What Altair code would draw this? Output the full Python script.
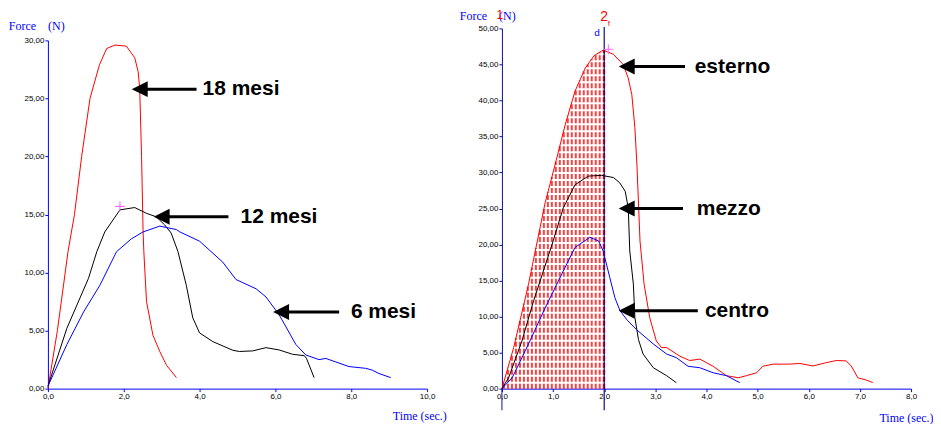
import altair as alt
import numpy as np
import pandas as pd

# ---------------- left panel data ----------------
m18_x = [0, 0.25, 0.53, 0.70, 0.89, 1.11, 1.36, 1.55, 1.77, 2.07, 2.29, 2.38, 2.42, 2.47, 2.51, 2.53, 2.60, 2.77, 2.95, 3.13, 3.39]
m18_y = [0, 5.0, 11.8, 15.0, 20.0, 25.0, 27.9, 29.3, 29.6, 29.5, 28.5, 27.3, 25.9, 20.0, 13.5, 11.8, 7.5, 4.6, 3.2, 2.0, 0.95]
m12_x = [0, 0.5, 1.07, 1.29, 1.5, 1.9, 2.29, 2.6, 2.86, 3.08, 3.25, 3.43, 3.65, 3.82, 4.0, 4.35, 4.88, 5.05, 5.40, 5.75, 6.1, 6.45, 6.76, 6.82, 7.02]
m12_y = [0.2, 5.2, 9.5, 11.8, 13.5, 15.4, 15.6, 15.1, 14.8, 14.1, 13.4, 11.8, 8.9, 6.1, 4.8, 4.05, 3.3, 3.2, 3.25, 3.53, 3.33, 2.96, 2.84, 2.6, 0.95]
m6_x = [0, 0.5, 0.94, 1.37, 1.81, 2.2, 2.51, 2.95, 3.39, 3.48, 4.0, 4.61, 4.96, 5.49, 5.75, 6.1, 6.54, 6.8, 7.15, 7.33, 7.59, 7.94, 8.38, 8.55, 8.73, 9.04]
m6_y = [0.2, 3.8, 6.6, 8.9, 11.8, 12.9, 13.5, 14.0, 13.7, 13.5, 12.7, 10.9, 9.4, 8.6, 7.9, 6.35, 3.8, 2.9, 2.5, 2.6, 2.3, 1.9, 1.75, 1.6, 1.3, 0.95]

left_labels = ["18 mesi", "12 mesi", "6 mesi"]
left_tip_x = [2.42, 3.0, 6.15]
left_arrow_y = [25.8, 14.8, 6.6]
left_end_x = [3.92, 4.76, 7.68]
left_text_x = [4.08, 5.08, 7.99]

# ---------------- right panel data ----------------
est_x = [0, 0.23, 0.52, 0.845, 1.04, 1.24, 1.43, 1.63, 1.80, 1.98, 2.18, 2.37, 2.47, 2.54, 2.60, 2.64, 2.70, 2.78, 2.89, 3.02, 3.12, 3.22, 3.48, 3.67, 3.87, 4.13, 4.39, 4.62, 4.78, 4.98, 5.1, 5.3, 5.63, 5.82, 6.08, 6.34, 6.54, 6.73, 6.83, 6.96, 7.12, 7.25]
est_y = [0, 5.7, 14.5, 25.8, 31.1, 36.7, 41.3, 44.5, 46.2, 47.0, 46.4, 45.0, 43.1, 40.8, 36.2, 31.0, 20.5, 14.5, 9.85, 6.6, 5.7, 5.7, 4.5, 3.9, 4.1, 3.1, 1.8, 1.5, 1.8, 2.2, 3.1, 3.4, 3.4, 3.5, 3.15, 3.6, 3.9, 3.85, 3.15, 1.5, 1.2, 0.85]
mez_x = [0, 0.13, 0.39, 0.62, 0.98, 1.2, 1.43, 1.69, 1.95, 2.18, 2.30, 2.41, 2.47, 2.50, 2.57, 2.60, 2.67, 2.76, 2.96, 3.22, 3.41]
mez_y = [0, 1.5, 6.6, 12.2, 20.0, 25.1, 28.3, 29.5, 29.6, 29.3, 28.6, 27.4, 25.1, 19.1, 14.5, 9.85, 6.8, 4.8, 2.9, 1.8, 0.83]
cen_x = [0, 0.2, 0.52, 0.845, 1.17, 1.43, 1.72, 1.89, 1.98, 2.11, 2.21, 2.31, 2.45, 2.63, 2.96, 3.22, 3.41, 3.64, 3.87, 4.13, 4.39, 4.65]
cen_y = [0, 1.5, 6.2, 11.2, 15.9, 19.6, 21.0, 20.5, 19.1, 15.4, 12.6, 10.8, 9.5, 8.2, 6.2, 4.8, 4.3, 3.1, 2.9, 2.2, 1.8, 0.83]

right_labels = ["esterno", "mezzo", "centro"]
right_tip_x = [2.44, 2.44, 2.44]
right_arrow_y = [44.7, 25.0, 10.8]
right_end_x = [3.58, 3.54, 3.83]
right_text_x = [3.77, 3.81, 3.97]

cursor_x = 2.0

LBL_Y = "replace(format(datum.value, '.2f'), '.', ',')"
LBL_X = "replace(format(datum.value, '.1f'), '.', ',')"
NB = "\u00a0"


def series_df(pairs):
    rows = []
    for name, xs, ys in pairs:
        for i, (a, b) in enumerate(zip(xs, ys)):
            rows.append({"s": name, "x": a, "y": b, "i": i})
    return pd.DataFrame(rows)


def arrows_df(tx, ay, ex, txx, labels):
    return pd.DataFrame({"tx": tx, "y": ay, "ex": ex, "lx": txx, "label": labels})


ARROW_HEAD = "M-1,0L1,-1L1,1Z"
CROSS = "M-1,0L1,0M0,-1L0,1"


def panel(df, arrows, xdom, xvals, ydom, yvals, yrange, width, height,
          ycol, xcol, ytitle_x, ytitle_y, xtitle_x, xtitle_y, extra_layers):
    xax = alt.Axis(values=xvals, labelExpr=LBL_X, tickSize=3, labelPadding=1,
                   domainColor=xcol, tickColor=xcol, labelColor="#000000",
                   labelFont="Liberation Sans", labelFontSize=8, grid=False,
                   title="Time (sec.)", titleFont="Liberation Serif", titleFontSize=12,
                   titleFontWeight="normal", titleColor="#0000ff", titleAlign="right",
                   titleBaseline="middle", titleX=xtitle_x, titleY=xtitle_y,
                   labelFlush=False, labelOverlap=False)
    yax = alt.Axis(values=yvals, labelExpr=LBL_Y, tickSize=3, labelPadding=1,
                   domainColor=ycol, tickColor=ycol, labelColor="#000000",
                   labelFont="Liberation Sans", labelFontSize=8, grid=False,
                   title="Force" + NB * 4 + "(N)", titleAngle=0, titleAlign="left",
                   titleBaseline="middle", titleX=ytitle_x, titleY=ytitle_y,
                   titleFont="Liberation Serif", titleFontSize=12,
                   titleFontWeight="normal", titleColor="#0000ff",
                   labelFlush=False, labelOverlap=False)
    xs = alt.Scale(domain=xdom, nice=False, zero=False)
    ysc = alt.Scale(domain=ydom, nice=False, zero=False, range=yrange) if yrange else \
        alt.Scale(domain=ydom, nice=False, zero=False)

    def X(f):
        return alt.X(f, type="quantitative", scale=xs, axis=xax)

    def Y(f):
        return alt.Y(f, type="quantitative", scale=ysc, axis=yax)

    lines = alt.Chart(df).mark_line(strokeWidth=1, clip=False).encode(
        x=X("x"), y=Y("y"),
        color=alt.Color("s:N", scale=alt.Scale(domain=["r", "k", "b"],
                                               range=["#ff0000", "#000000", "#0000ff"]),
                        legend=None),
        order=alt.Order("i:Q"),
    )
    shafts = alt.Chart(arrows).mark_rule(strokeWidth=3, color="#000000").encode(
        x=X("tx"), x2="ex", y=Y("y"))
    heads = alt.Chart(arrows).mark_point(shape=ARROW_HEAD, size=256, filled=True,
                                         color="#000000", opacity=1).encode(
        x=X("tx"), y=Y("y"))
    texts = alt.Chart(arrows).mark_text(font="Liberation Sans", fontSize=21,
                                        fontWeight="bold", align="left",
                                        baseline="middle", color="#000000").encode(
        x=X("lx"), y=Y("y"), text="label:N")
    layers = [l(X, Y) for l in extra_layers[0]] + [lines] + \
             [l(X, Y) for l in extra_layers[1]] + [shafts, heads, texts]
    return alt.layer(*layers).properties(width=width, height=height)


def text_layer(df, color, size, weight="normal", font="Liberation Sans", opacity=1):
    def make(X, Y):
        return alt.Chart(df).mark_text(font=font, fontSize=size, fontWeight=weight,
                                       color=color, opacity=opacity, align="center",
                                       baseline="middle").encode(
            x=X("x"), y=Y("y"), text="t:N")
    return make


# ---------- left ----------
dfL = series_df([("r", m18_x, m18_y), ("k", m12_x, m12_y), ("b", m6_x, m6_y)])
arrL = arrows_df(left_tip_x, left_arrow_y, left_end_x, left_text_x, left_labels)
crossL = pd.DataFrame({"x": [1.9], "y": [15.7]})
# invisible element matching the top extent of the right panel's cursor label
spacerL = pd.DataFrame({"x": [2.0], "y": [32.1], "t": ["2"]})


def crossL_layer(X, Y):
    return alt.Chart(crossL).mark_point(shape=CROSS, size=100, filled=False,
                                        color="#ff55ff", strokeWidth=1, opacity=1).encode(
        x=X("x"), y=Y("y"))


left = panel(dfL, arrL, [0, 10], [0, 2, 4, 6, 8, 10], [0, 30], [0, 5, 10, 15, 20, 25, 30],
             [361, 12], 380, 361, "#0000ff", "#0000ff", -39.7, -3, 399.3, 27,
             ([], [crossL_layer, text_layer(spacerL, "#ffffff", 14, "normal", opacity=0)]))

# ---------- right ----------
dfR = series_df([("r", est_x, est_y), ("k", mez_x, mez_y), ("b", cen_x, cen_y)])
arrR = arrows_df(right_tip_x, right_arrow_y, right_end_x, right_text_x, right_labels)
hx = np.arange(0.04, cursor_x, 0.078)
hatch = pd.DataFrame({"x": hx, "y": 0.0, "y2": np.interp(hx, est_x, est_y)})
cursor_red = pd.DataFrame({"x": [cursor_x], "y": [0.0], "y2": [float(np.interp(cursor_x, est_x, est_y))]})
cursor_line = pd.DataFrame({"x": [cursor_x], "y": [-3.0], "y2": [50.2]})
axis_ext = pd.DataFrame({"x": [0.0], "y": [-3.0], "y2": [0.0]})
lbl2 = pd.DataFrame({"x": [2.0], "y": [51.6], "t": ["2"]})
lbl1 = pd.DataFrame({"x": [-0.04], "y": [51.8], "t": ["1"]})
lbld = pd.DataFrame({"x": [1.86], "y": [49.4], "t": ["d"]})
lblf = pd.DataFrame({"x": [2.09], "y": [50.6], "t": ["f"]})
crossR = pd.DataFrame({"x": [2.08], "y": [47.1]})


def hatch_layer(X, Y):
    return alt.Chart(hatch).mark_rule(color="#ff0000", strokeWidth=2, strokeDash=[5, 2],
                                      opacity=0.75).encode(x=X("x"), y=Y("y"), y2="y2")


def cursor_red_layer(X, Y):
    return alt.Chart(cursor_red).mark_rule(color="#ff0000", strokeWidth=2,
                                           strokeDash=[5, 2]).encode(x=X("x"), y=Y("y"), y2="y2")


def cursor_layer(X, Y):
    return alt.Chart(cursor_line).mark_rule(color="#10108a", strokeWidth=1.2).encode(
        x=X("x"), y=Y("y"), y2="y2")


def axis_ext_layer(X, Y):
    return alt.Chart(axis_ext).mark_rule(color="#10109a", strokeWidth=1).encode(
        x=X("x"), y=Y("y"), y2="y2")


def crossR_layer(X, Y):
    return alt.Chart(crossR).mark_point(shape=CROSS, size=100, filled=False,
                                        color="#ff66ff", strokeWidth=1, opacity=1).encode(
        x=X("x"), y=Y("y"))


right = panel(dfR, arrR, [0, 8], [0, 1, 2, 3, 4, 5, 6, 7, 8], [0, 50],
              [0, 5, 10, 15, 20, 25, 30, 35, 40, 45, 50],
              None, 410, 361, "#10109a", "#0000ee", -42.7, -13, 432, 29,
              ([hatch_layer, cursor_red_layer],
               [cursor_layer, axis_ext_layer, crossR_layer,
                text_layer(lbl2, "#ff0000", 14),
                text_layer(lbl1, "#ff0000", 12),
                text_layer(lbld, "#0000ff", 10),
                text_layer(lblf, "#ff0000", 8)]))

chart = alt.hconcat(left, right, spacing=12).properties(
    padding={"left": 0, "top": 0, "right": 0, "bottom": 0}
).configure_view(stroke=None).resolve_scale(color="independent")

chart.save("out.html", embed_options={"renderer": "svg", "actions": False})
